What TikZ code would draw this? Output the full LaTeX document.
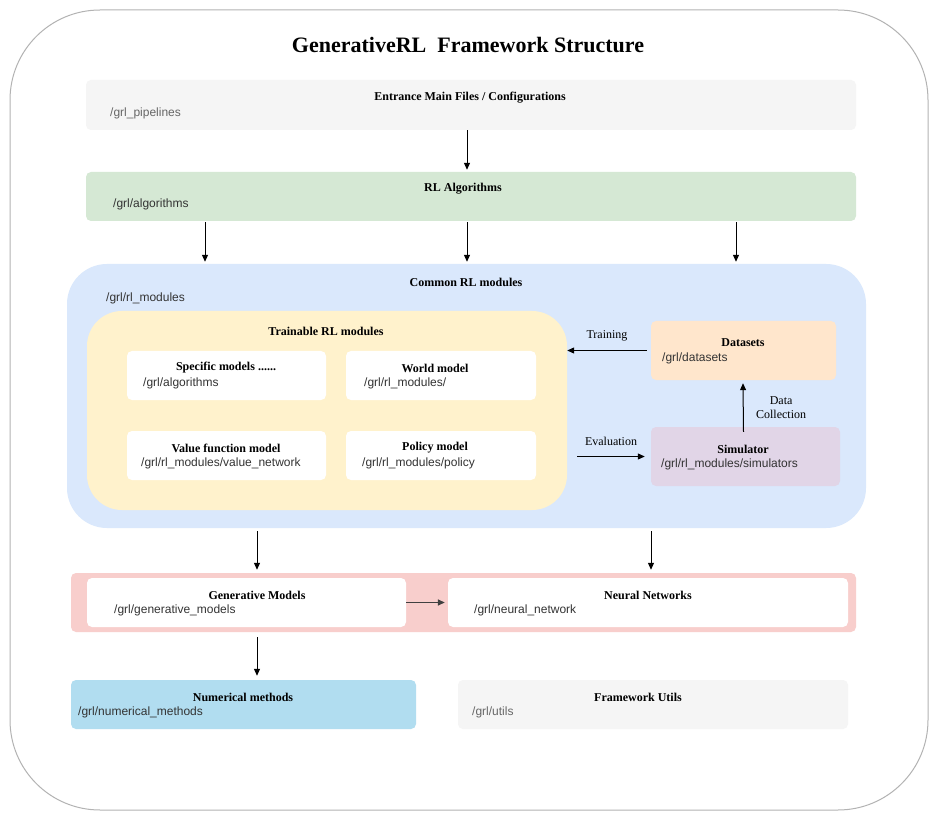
\documentclass[tikz,border=0pt]{standalone}
\usepackage{fontspec}
\setmainfont{Liberation Serif}
\setsansfont{Liberation Sans}
\usetikzlibrary{arrows.meta}

\definecolor{frame}{HTML}{B3B3B3}
\definecolor{greyc}{HTML}{F5F5F5}
\definecolor{greenc}{HTML}{D5E8D4}
\definecolor{bluec}{HTML}{DAE8FC}
\definecolor{yellowc}{HTML}{FFF2CC}
\definecolor{orangec}{HTML}{FFE6CC}
\definecolor{purplec}{HTML}{E1D5E7}
\definecolor{redc}{HTML}{F8CECC}
\definecolor{cyanc}{HTML}{B1DDF0}
\definecolor{loctext}{HTML}{333333}

\tikzset{
    box/.style={rounded corners=5pt, inner sep=0pt},
    ttl/.style={font=\bfseries\fontsize{12}{14}\selectfont},
    loc/.style={anchor=west, inner sep=0pt, text=loctext, font=\sffamily\fontsize{12}{14}\selectfont},
    arr/.style={-{Triangle[length=7pt, width=6pt]}, line width=1pt}
}

\begin{document}
\begin{tikzpicture}[x=1pt, y=-1pt]
            \useasboundingbox (0,0) rectangle (938,821);
            \fill[white] (0,0) rectangle (938,821);

            % outer frame and title
            \draw[frame, line width=1pt, rounded corners=90pt] (10,10) rectangle (928,810);
            \node[font=\bfseries\fontsize{22}{26}\selectfont] (title) at (468,45) {GenerativeRL\ \ Framework Structure};

            % entrance
            \node[box, fill=greyc, minimum width=770pt, minimum height=50pt] (entry) at (471,105) {};
            \node[ttl] (entryttl) at (470,98) {Entrance Main Files / Configurations};
            \node[loc, text=black!60] (entryloc) at (110,113) {/grl\_pipelines};

            % algorithms
            \node[box, fill=greenc, minimum width=770pt, minimum height=49pt] (algo) at (471,196.5) {};
            \node[ttl] (algottl) at (463,189) {RL Algorithms};
            \node[loc] (algoloc) at (113,204) {/grl/algorithms};

            % common RL modules
            \node[box, rounded corners=40pt, fill=bluec, minimum width=799pt, minimum height=264pt] (common) at (466.5,396) {};
            \node[ttl] (commonttl) at (466,282) {Common RL modules};
            \node[loc] (commonloc) at (106,298) {/grl/rl\_modules};

            \node[box, rounded corners=35pt, fill=yellowc, minimum width=480pt, minimum height=199pt] (train) at (327,410.5) {};
            \node[ttl] (trainttl) at (326,331) {Trainable RL modules};

            \node[box, fill=white, minimum width=199pt, minimum height=49pt] (spec) at (226.5,375.5) {};
            \node[ttl] (specttl) at (226,368) {Specific models ......};
            \node[loc] (specloc) at (143,383) {/grl/algorithms};

            \node[box, fill=white, minimum width=190pt, minimum height=49pt] (world) at (441,375.5) {};
            \node[ttl] (worldttl) at (435,368) {World model};
            \node[loc] (worldloc) at (364,383) {/grl/rl\_modules/};

            \node[box, fill=white, minimum width=199pt, minimum height=49pt] (value) at (226.5,455.5) {};
            \node[ttl] (valuettl) at (226,448) {Value function model};
            \node[loc] (valueloc) at (141,463) {/grl/rl\_modules/value\_network};

            \node[box, fill=white, minimum width=190pt, minimum height=49pt] (policy) at (441,455.5) {};
            \node[ttl] (policyttl) at (435,448) {Policy model};
            \node[loc] (policyloc) at (362,463) {/grl/rl\_modules/policy};

            \node[box, fill=orangec, minimum width=185pt, minimum height=59pt] (data) at (743.5,350.5) {};
            \node[ttl] (datattl) at (743,343) {Datasets};
            \node[loc] (dataloc) at (662,358) {/grl/datasets};

            \node[box, fill=purplec, minimum width=189pt, minimum height=59pt] (sim) at (745.5,456.5) {};
            \node[ttl] (simttl) at (743,449) {Simulator};
            \node[loc] (simloc) at (661,464) {/grl/rl\_modules/simulators};

            % generative models and networks
            \node[box, fill=redc, minimum width=785pt, minimum height=59pt] (band) at (463.5,602.5) {};
            \node[box, fill=white, minimum width=319pt, minimum height=49pt] (gen) at (246.5,602.5) {};
            \node[ttl] (genttl) at (257,595) {Generative Models};
            \node[loc] (genloc) at (114,610) {/grl/generative\_models};

            \node[box, fill=white, minimum width=400pt, minimum height=49pt] (net) at (648,602.5) {};
            \node[ttl] (netttl) at (648,595) {Neural Networks};
            \node[loc] (netloc) at (474,610) {/grl/neural\_network};

            % bottom row
            \node[box, fill=cyanc, minimum width=345pt, minimum height=49pt] (num) at (243.5,704.5) {};
            \node[ttl] (numttl) at (243,697) {Numerical methods};
            \node[loc] (numloc) at (78,712) {/grl/numerical\_methods};

            \node[box, fill=greyc, minimum width=390pt, minimum height=49pt] (utils) at (653,704.5) {};
            \node[ttl] (utilsttl) at (638,697) {Framework Utils};
            \node[loc, text=black!60] (utilsloc) at (472,712) {/grl/utils};

            % arrows
            \draw[arr] ([xshift=-4pt]entry.south) -- ([xshift=-4pt, yshift=2pt]algo.north);
            \draw[arr] ([xshift=-266pt, yshift=-1pt]algo.south) -- ([xshift=-261.5pt, yshift=2pt]common.north);
            \draw[arr] ([xshift=-4pt, yshift=-1pt]algo.south) -- ([xshift=0.5pt, yshift=2pt]common.north);
            \draw[arr] ([xshift=265pt, yshift=-1pt]algo.south) -- ([xshift=269.5pt, yshift=2pt]common.north);

            \draw[arr] ([xshift=-4pt]data.west) -- (train.east |- data.west) node[midway, above=6pt, font=\fontsize{12}{14}\selectfont] (trainlbl) {Training};
            \draw[arr] ([xshift=10pt]train.east |- sim.center) -- ([xshift=-6pt]sim.west |- sim.center) node[midway, above=7pt, font=\fontsize{12}{14}\selectfont] (evallbl) {Evaluation};
            \draw[arr] ([xshift=-2pt, yshift=-5pt]sim.north) -- ([xshift=-0.5pt, yshift=-3pt]data.south) node[midway, right=9pt, align=center, font=\fontsize{12}{14}\selectfont] (collbl) {Data\\Collection};

            \draw[arr] ([xshift=-209.5pt, yshift=-3pt]common.south) -- ([xshift=-206.5pt, yshift=3pt]band.north);
            \draw[arr] ([xshift=184.5pt, yshift=-3pt]common.south) -- ([xshift=187.5pt, yshift=3pt]band.north);
            \draw[arr, black!75, line width=1.5pt] (gen.east) -- ([xshift=-3pt]net.west);
            \draw[arr] ([xshift=10.5pt, yshift=-10pt]gen.south) -- ([xshift=13.5pt, yshift=4pt]num.north);
\end{tikzpicture}
\end{document}
